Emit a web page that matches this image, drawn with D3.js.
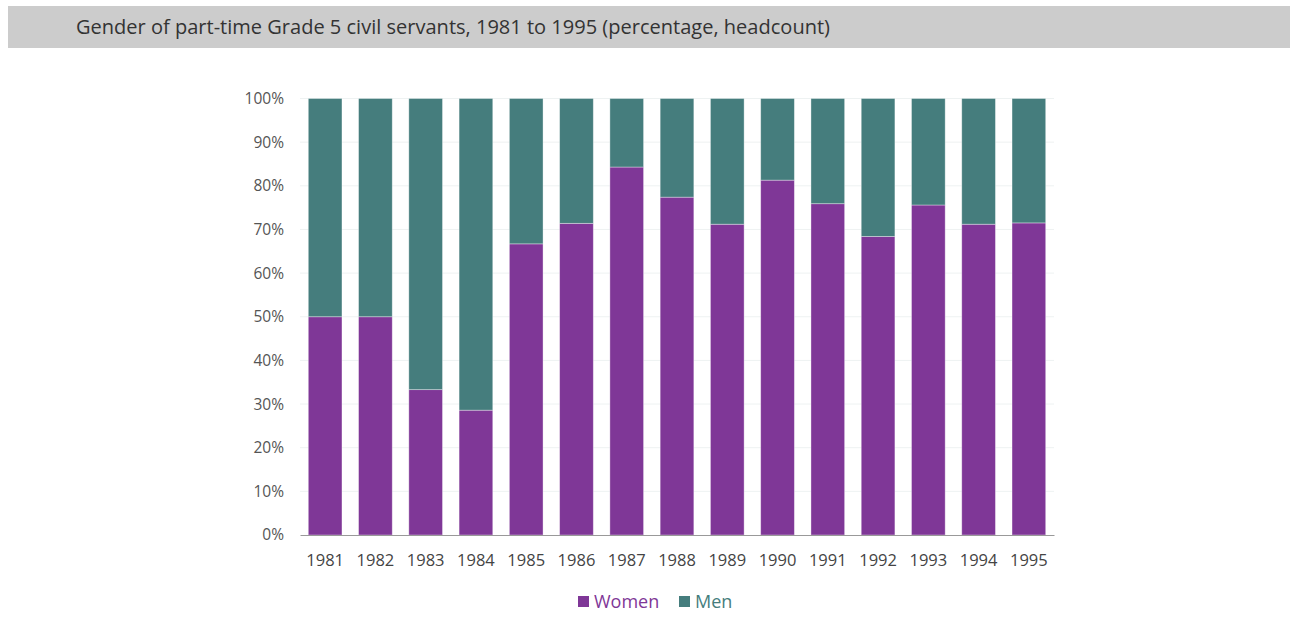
<!DOCTYPE html>
<html>
<head>
<meta charset="utf-8">
<script src="https://cdn.jsdelivr.net/npm/d3@7"></script>
<style>
  body { margin: 0; background: #fff; font-family: "Open Sans", sans-serif; }
</style>
</head>
<body>
<div id="chart"></div>
<script>
const years = ["1981","1982","1983","1984","1985","1986","1987","1988","1989","1990","1991","1992","1993","1994","1995"];
const women = [50, 50, 33.3, 28.6, 66.7, 71.4, 84.3, 77.4, 71.2, 81.3, 75.9, 68.4, 75.6, 71.2, 71.5];
const men = women.map(w => 100 - w);
const yTicks = [0, 10, 20, 30, 40, 50, 60, 70, 80, 90, 100];
const seriesNames = ["Women", "Men"];
const colors = {Women: "#7f3797", Men: "#457d7d"};

const W = 1290, H = 617;
const margin = {top: 98.5, left: 300, right: 236, bottom: 82};
const width = W - margin.left - margin.right,
    height = H - margin.top - margin.bottom;

const svg = d3.select("#chart")
  .append("svg")
    .attr("width", W)
    .attr("height", H);

// title bar
svg.append("rect")
  .attr("x", 8).attr("y", 6)
  .attr("width", W - 8).attr("height", 42)
  .attr("fill", "#cccccc");
svg.append("text")
  .attr("x", 76).attr("y", 34)
  .attr("fill", "#333")
  .attr("font-size", 20)
  .attr("font-family", "'Open Sans', sans-serif")
  .attr("textLength", 754)
  .attr("lengthAdjust", "spacingAndGlyphs")
  .text("Gender of part-time Grade 5 civil servants, 1981 to 1995 (percentage, headcount)");

const g = svg.append("g")
  .attr("transform", `translate(${margin.left},${margin.top})`);

const x = d3.scaleBand()
  .domain(years)
  .range([0, width])
  .paddingInner(0.33)
  .paddingOuter(0.165);

const y = d3.scaleLinear()
  .domain([0, 100])
  .range([height, 0]);

// gridlines
g.append("g")
  .selectAll("line")
  .data(yTicks.filter(d => d > 0))
  .join("line")
    .attr("x1", 0).attr("x2", width)
    .attr("y1", d => y(d)).attr("y2", d => y(d))
    .attr("stroke", "#eef2f2")
    .attr("stroke-width", 1);

const rows = years.map((yr, i) => ({year: yr, Women: women[i], Men: men[i]}));
const stack = d3.stack().keys(seriesNames)(rows);

g.append("g")
  .selectAll("g")
  .data(stack)
  .join("g")
    .attr("fill", d => colors[d.key])
  .selectAll("rect")
  .data(d => d)
  .join("rect")
    .attr("x", d => x(d.data.year))
    .attr("y", d => y(d[1]))
    .attr("width", x.bandwidth())
    .attr("height", d => y(d[0]) - y(d[1]))
    .attr("stroke", "rgba(255,255,255,0.45)")
    .attr("stroke-width", 0.8);

// y axis
const yAxis = g.append("g")
  .call(d3.axisLeft(y).tickValues(yTicks).tickFormat(d => d + "%").tickSize(0).tickPadding(16));
yAxis.select(".domain").remove();
yAxis.selectAll("text")
  .attr("fill", "#555")
  .attr("font-size", 15.5)
  .attr("font-family", "'Open Sans', sans-serif");

// x axis
const xAxis = g.append("g")
  .attr("transform", `translate(0,${height})`)
  .call(d3.axisBottom(x).tickSize(0).tickPadding(19));
xAxis.select(".domain").attr("stroke", "#999").attr("stroke-width", 1.2);
xAxis.selectAll("text")
  .attr("fill", "#444")
  .attr("font-size", 16.5)
  .attr("font-family", "'Open Sans', sans-serif");

// legend
const legend = svg.append("g").attr("transform", "translate(578,0)");
const items = [{name: "Women", x: 0}, {name: "Men", x: 101}];
items.forEach(it => {
  legend.append("rect")
    .attr("x", it.x).attr("y", 596)
    .attr("width", 11).attr("height", 11)
    .attr("fill", colors[it.name]);
  legend.append("text")
    .attr("x", it.x + 16).attr("y", 608)
    .attr("fill", colors[it.name])
    .attr("font-size", 18)
    .attr("font-weight", 500)
    .attr("font-family", "'Open Sans', sans-serif")
    .text(it.name);
});
</script>
</body>
</html>
